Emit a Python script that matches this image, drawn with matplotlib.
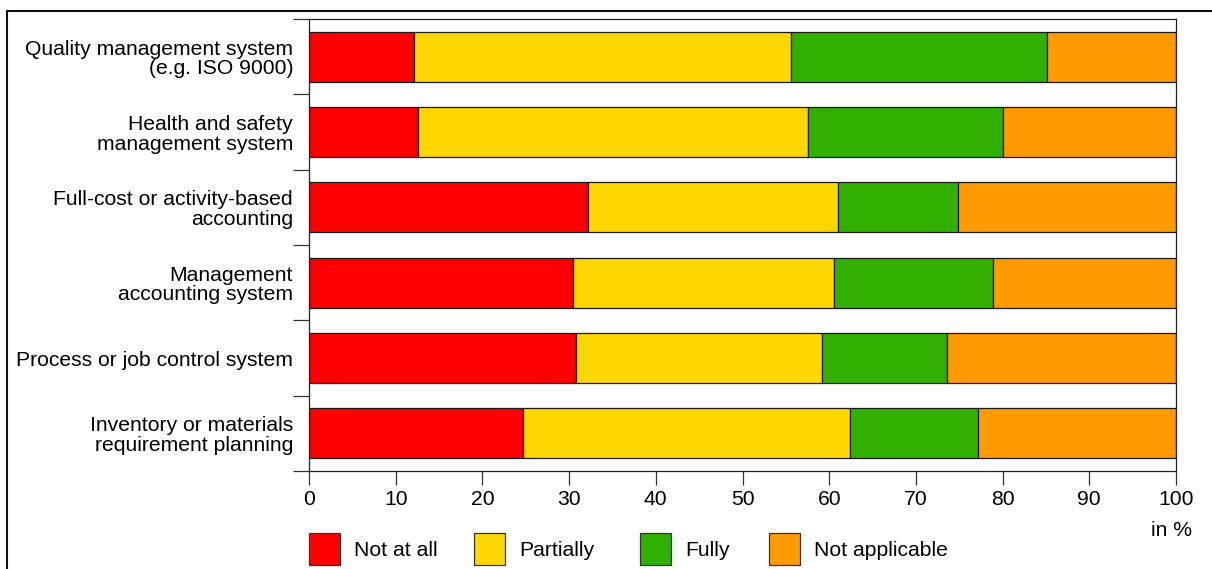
import numpy as np
import matplotlib
matplotlib.use("Agg")
import matplotlib.pyplot as plt
from matplotlib.lines import Line2D
from matplotlib.patches import Patch

plt.rcParams['font.family'] = ['Liberation Sans', 'DejaVu Sans']

categories = [
    "Quality management system\n(e.g. ISO 9000)",
    "Health and safety\nmanagement system",
    "Full-cost or activity-based\naccounting",
    "Management\naccounting system",
    "Process or job control system",
    "Inventory or materials\nrequirement planning",
]
series = ["Not at all", "Partially", "Fully", "Not applicable"]
not_at_all = [12.1, 12.6, 32.2, 30.5, 30.8, 24.7]
partially = [43.5, 45.0, 28.8, 30.1, 28.4, 37.7]
fully = [29.5, 22.4, 13.9, 18.3, 14.4, 14.8]
not_applicable = [14.9, 20.0, 25.1, 21.1, 26.4, 22.8]
colors = ["#ff0000", "#ffd700", "#31b000", "#ff9a00"]
xticks = [0, 10, 20, 30, 40, 50, 60, 70, 80, 90, 100]

FS = 15.25
fig = plt.figure(figsize=(12.12, 5.69), dpi=100)
ax = fig.add_axes([309/1212, 1 - 471/569, (1176-309)/1212, (471-19)/569])

y = np.arange(len(categories))
left = np.zeros(len(categories))
for vals, name, col in zip([not_at_all, partially, fully, not_applicable], series, colors):
    ax.barh(y, vals, left=left, height=0.665, color=col, edgecolor="#1a1a1a",
            linewidth=0.9, label=name)
    left += np.array(vals)

ax.set_xlim(0, 100)
ax.set_ylim(len(categories) - 0.5, -0.5)
ax.set_xticks(xticks)
ax.set_yticks(y)
ax.set_yticklabels(categories, fontsize=FS, linespacing=1.05)
ax.set_yticks(np.arange(-0.5, len(categories)), minor=True)
ax.tick_params(axis="y", which="major", length=0, pad=11.5)
ax.tick_params(axis="y", which="minor", length=11.5, width=0.9, color="#333333")
ax.tick_params(axis="x", length=10, width=0.9, color="#333333", labelsize=FS, pad=4)
for s in ax.spines.values():
    s.set_linewidth(0.9)
    s.set_color("#222222")

fig.text(1192/1212, 1 - 530/569, "in %", ha="right", va="center", fontsize=FS)

# legend entries placed side by side under the axes
legend_x = [309, 474, 640, 769]
for lx, name, col in zip(legend_x, series, colors):
    h = Patch(facecolor=col, edgecolor="#333333", linewidth=0.9)
    fig.legend([h], [name], loc="center left",
               bbox_to_anchor=(lx / 1212, 1 - 549/569),
               frameon=False, fontsize=FS, handlelength=1.46, handleheight=1.88,
               handletextpad=0.66, borderpad=0, borderaxespad=0)

# outer frame (top and left edges)
fig.add_artist(Line2D([7/1212, 1], [1 - 11/569, 1 - 11/569], color="#111111", linewidth=1.5))
fig.add_artist(Line2D([7/1212, 7/1212], [0, 1 - 11/569], color="#111111", linewidth=1.5))

fig.savefig("out.png", dpi=100)
